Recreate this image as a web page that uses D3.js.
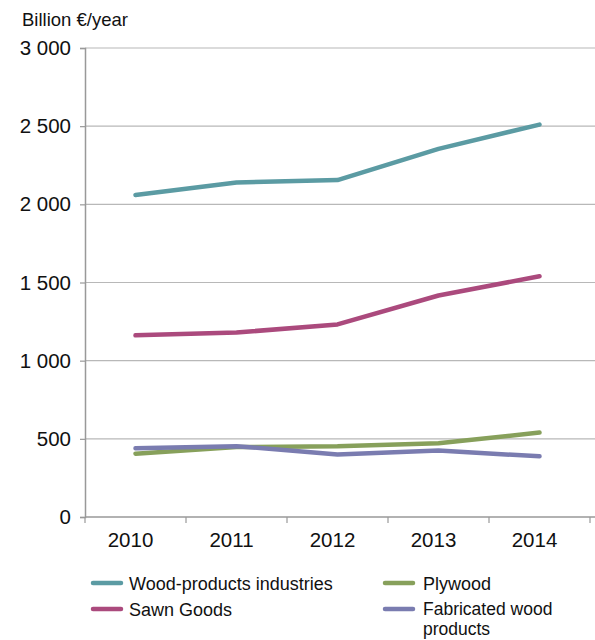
<!DOCTYPE html>
<html>
<head>
<meta charset="utf-8">
<script src="https://cdn.jsdelivr.net/npm/d3@7"></script>
<style>
  html, body { margin: 0; padding: 0; background: #fff; }
  svg text { font-family: "Liberation Sans", Arial, sans-serif; fill: #111; }
</style>
</head>
<body>
<svg id="chart" width="595" height="640"></svg>
<script>
const years = ["2010", "2011", "2012", "2013", "2014"];
const woodProducts = [2060, 2140, 2155, 2355, 2510];
const sawnGoods = [1162, 1180, 1232, 1417, 1540];
const plywood = [405, 447, 452, 472, 540];
const fabricated = [440, 453, 400, 425, 388];
const yTicks = [0, 500, 1000, 1500, 2000, 2500, 3000];

const series = [
  { name: "Wood-products industries", values: woodProducts, color: "#5b9ba3" },
  { name: "Sawn Goods", values: sawnGoods, color: "#ab4a7d" },
  { name: "Plywood", values: plywood, color: "#87a05b" },
  { name: "Fabricated wood products", values: fabricated, color: "#7a7cb0" }
];

const svg = d3.select("#chart");
const plotLeft = 85, plotRight = 590, plotTop = 48, plotBottom = 517;

const x = d3.scaleBand().domain(years).range([plotLeft, plotRight]);
const y = d3.scaleLinear().domain([0, 3000]).range([plotBottom, plotTop]);

const fmt = v => d3.format(",")(v).replace(/,/g, " ");

// horizontal gridlines
svg.append("g").selectAll("line")
  .data(yTicks.filter(d => d > 0))
  .join("line")
  .attr("x1", plotLeft).attr("x2", 595)
  .attr("y1", d => y(d)).attr("y2", d => y(d))
  .attr("stroke", "#b8b8b8").attr("stroke-width", 1.2);

// y axis
const yAxis = svg.append("g").attr("transform", `translate(${plotLeft},0)`)
  .call(d3.axisLeft(y).tickValues(yTicks).tickFormat(fmt).tickSize(5).tickPadding(9));
yAxis.select(".domain").attr("stroke", "#999").attr("stroke-width", 1.5);
yAxis.selectAll(".tick line").attr("stroke", "#999").attr("stroke-width", 1.2);
yAxis.selectAll("text").style("font-size", "20.5px").attr("fill", "#111");

// x axis
const xAxis = svg.append("g").attr("transform", `translate(0,${plotBottom})`)
  .call(d3.axisBottom(x).tickSize(0).tickPadding(15));
xAxis.select(".domain").attr("stroke", "#999").attr("stroke-width", 1.5)
  .attr("d", `M${plotLeft},0H595`);
xAxis.selectAll("text").style("font-size", "20.5px").attr("fill", "#111").attr("dx", -5);
svg.append("g").selectAll("line")
  .data(years.map(d => x(d)).concat([plotRight]))
  .join("line")
  .attr("x1", d => d).attr("x2", d => d)
  .attr("y1", plotBottom).attr("y2", plotBottom + 6)
  .attr("stroke", "#999").attr("stroke-width", 1.2);

// unit label
svg.append("text").attr("x", 22).attr("y", 26)
  .style("font-size", "18.5px").text("Billion €/year");

// series lines
const line = d3.line()
  .x((d, i) => x(years[i]) + x.bandwidth() / 2)
  .y(d => y(d));

svg.append("g").selectAll("path")
  .data(series)
  .join("path")
  .attr("d", d => line(d.values))
  .attr("fill", "none")
  .attr("stroke", d => d.color)
  .attr("stroke-width", 4.5)
  .attr("stroke-linecap", "round")
  .attr("stroke-linejoin", "round");

// legend
const legendPos = [
  { x: 93, y: 583, tx: 36 }, { x: 93, y: 609, tx: 36 },
  { x: 385, y: 583, tx: 38 }, { x: 385, y: 609, tx: 38 }
];
const legend = svg.append("g").selectAll("g")
  .data(series)
  .join("g")
  .attr("transform", (d, i) => `translate(${legendPos[i].x},${legendPos[i].y})`);
legend.append("line")
  .attr("x1", 0).attr("x2", 28).attr("y1", 0).attr("y2", 0)
  .attr("stroke", d => d.color).attr("stroke-width", 4.5)
  .attr("stroke-linecap", "round");
legend.append("text")
  .attr("y", 6.5)
  .style("font-size", "18px")
  .each(function(d, i) {
    const t = d3.select(this);
    const tx = legendPos[i].tx;
    t.attr("x", tx);
    if (d.name === "Fabricated wood products") {
      // two-line entry: first line sits slightly higher to leave room for the second
      t.attr("y", 5.5).style("font-size", "17.5px");
      t.append("tspan").attr("x", tx).text("Fabricated wood");
      t.append("tspan").attr("x", tx).attr("dy", 20).text("products");
    } else {
      t.text(d.name);
    }
  });
</script>
</body>
</html>
